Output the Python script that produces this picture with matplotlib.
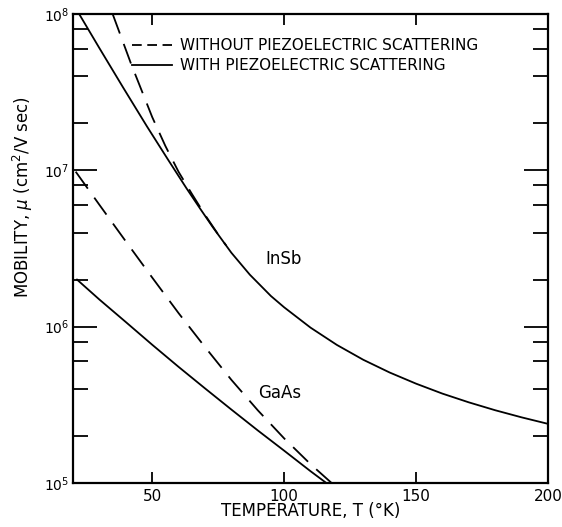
import numpy as np
import matplotlib
matplotlib.use("Agg")
import matplotlib.pyplot as plt
from matplotlib.lines import Line2D
from matplotlib.ticker import LogLocator, LogFormatterMathtext, NullLocator, NullFormatter, FixedLocator

# values (T in K, mobility in cm^2/V sec)
insb_with_T = [22, 30, 39, 48, 56, 63, 68, 73, 80, 87, 95, 100, 110, 120, 130, 140,
               150, 160, 170, 180, 190, 200]
insb_with_mu = [1.02e8, 6.04e7, 3.38e7, 1.91e7, 1.17e7, 7.67e6, 5.74e6, 4.32e6, 2.97e6,
                2.15e6, 1.57e6, 1.33e6, 9.86e5, 7.64e5, 6.14e5, 5.09e5, 4.32e5, 3.73e5,
                3.28e5, 2.92e5, 2.63e5, 2.39e5]

insb_without_T = [35, 42, 50, 55, 60, 65, 70, 75, 78]
insb_without_mu = [1.0e8, 4.79e7, 2.19e7, 1.43e7, 9.77e6, 7.08e6, 5.19e6, 3.89e6, 3.31e6]

gaas_without_T = [21, 30, 40, 50, 60, 70, 80, 90, 100, 110, 118]
gaas_without_mu = [9.8e6, 6.01e6, 3.51e6, 2.06e6, 1.22e6, 7.41e5, 4.57e5, 2.92e5,
                   1.93e5, 1.32e5, 1.0e5]

gaas_with_T = [21.5, 30, 40, 50, 60, 70, 80, 90, 100, 110, 116]
gaas_with_mu = [2.0e6, 1.49e6, 1.07e6, 7.66e5, 5.53e5, 4.03e5, 2.95e5, 2.17e5, 1.61e5,
                1.19e5, 1.0e5]

x_ticks = [50, 100, 150, 200]
legend_labels = ["WITHOUT PIEZOELECTRIC SCATTERING", "WITH PIEZOELECTRIC SCATTERING"]

plt.rcParams['font.family'] = ['DejaVu Sans']
plt.rcParams['lines.scale_dashes'] = False

fig = plt.figure(figsize=(5.62, 5.27), dpi=100)
ax = fig.add_axes([0.130, 0.0835, 0.845, 0.89])

lw = 1.3
ax.plot(insb_with_T, insb_with_mu, color='k', lw=lw)
ax.plot(insb_without_T, insb_without_mu, color='k', lw=lw, dashes=(15, 8))
ax.plot(gaas_with_T, gaas_with_mu, color='k', lw=lw)
ax.plot(gaas_without_T, gaas_without_mu, color='k', lw=lw, dashes=(15, 8))

ax.set_yscale('log')
ax.set_xlim(20, 200)
ax.set_ylim(1e5, 1e8)

ax.xaxis.set_major_locator(FixedLocator(x_ticks))
ax.xaxis.set_minor_locator(NullLocator())
ax.yaxis.set_major_locator(LogLocator(base=10))
ax.yaxis.set_major_formatter(LogFormatterMathtext())
ax.yaxis.set_minor_locator(LogLocator(base=10, subs=[2, 4, 6, 8]))
ax.yaxis.set_minor_formatter(NullFormatter())

for s in ax.spines.values():
    s.set_linewidth(1.6)

ax.tick_params(axis='both', which='both', direction='in', top=True, right=True, width=1.3)
ax.tick_params(axis='x', which='major', length=8, labelsize=11, pad=4)
ax.tick_params(axis='y', which='major', length=17, labelsize=10, pad=3)
ax.tick_params(axis='y', which='minor', length=11)

ax.set_xlabel("TEMPERATURE, T (°K)", fontsize=12, labelpad=-1)
ax.set_ylabel(r"MOBILITY, $\mu$ (cm$^2$/V sec)", fontsize=12)
ax.yaxis.set_label_coords(-0.08, 0.61)

ax.text(99.6, 2.7e6, "InSb", fontsize=12, ha='center', va='center')
ax.text(98.4, 3.76e5, "GaAs", fontsize=12, ha='center', va='center')

handles = [Line2D([], [], color='k', lw=lw, dashes=(7, 4)),
           Line2D([], [], color='k', lw=lw)]
ax.legend(handles, legend_labels, loc='upper left', bbox_to_anchor=(0.125, 0.948),
          frameon=False, fontsize=11, handlelength=2.6, handletextpad=0.5,
          borderpad=0, borderaxespad=0, labelspacing=0.3)

fig.savefig("out.png", dpi=100)
